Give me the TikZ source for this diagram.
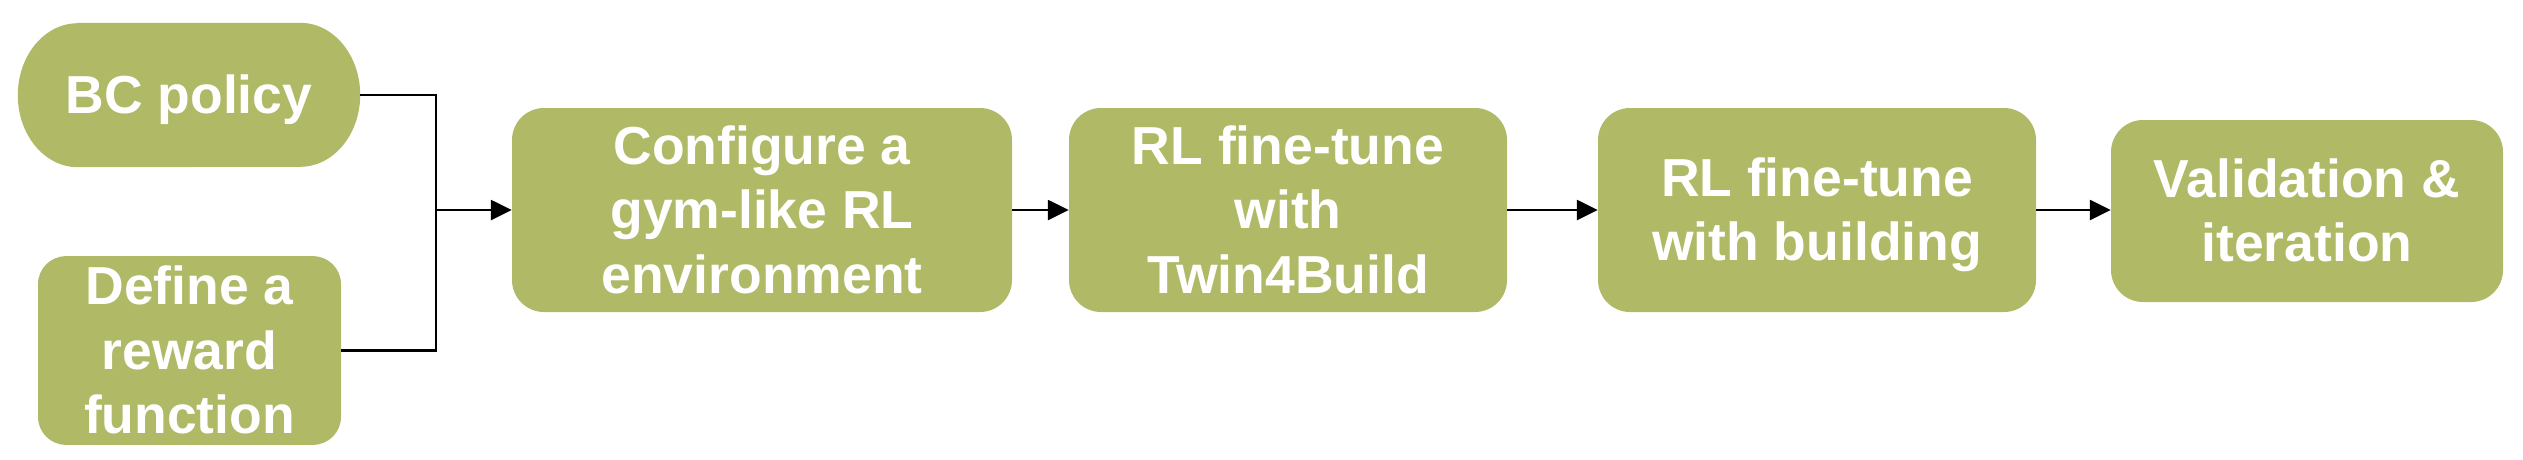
\documentclass[tikz,border=0pt]{standalone}
\usepackage{fontspec}
\setmainfont{Liberation Sans}
\usetikzlibrary{arrows.meta,backgrounds}
\definecolor{olivebox}{RGB}{175,185,102}
\newcommand\ST{\rule[-11.3pt]{0pt}{59.7pt}}
\begin{document}
\begin{tikzpicture}[x=1pt,y=-1pt,
  txt/.style={rectangle, inner sep=0pt, text=white, align=center,
    font=\fontsize{53.5}{64.5}\selectfont\bfseries},
  box/.style={txt, fill=olivebox, rounded corners=32pt},
  conn/.style={line width=2.5pt, draw=black},
  arr/.style={conn, -{Triangle[length=21pt,width=20pt]}}]
\useasboundingbox (0,0) rectangle (2523,459);

\node[txt, minimum width=342pt, minimum height=144pt] (bc) at (189,95) {\ST BC policy};
\begin{scope}[on background layer]
\fill[olivebox] ([xshift=60pt]bc.north west) -- ([xshift=-60pt]bc.north east)
  arc[start angle=90, end angle=-90, x radius=60pt, y radius=72pt]
  -- ([xshift=60pt]bc.south west)
  arc[start angle=270, end angle=90, x radius=60pt, y radius=72pt] -- cycle;
\end{scope}

\node[box, rounded corners=28pt, minimum width=303pt, minimum height=183pt] (def) at (189.5,350.5)
  {\ST Define a\\\ST reward\\\ST function};
\node[box, minimum width=500pt, minimum height=204pt] (cfg) at (762,210)
  {\ST Configure a\\\ST gym-like RL\\\ST environment};
\node[box, minimum width=438pt, minimum height=204pt] (twin) at (1288,210)
  {\ST RL fine-tune\\\ST with\\\ST Twin4Build};
\node[box, minimum width=438pt, minimum height=204pt] (bld) at (1817,210)
  {\ST RL fine-tune\\\ST with building};
\node[box, minimum width=392pt, minimum height=182pt] (val) at (2307,211)
  {\ST Validation \&\\\ST iteration};

\coordinate (j) at (436,210);
\draw[conn] (bc.east) -| (j);
\draw[conn] (def.east) -| (j);
\draw[arr] (j) -- (cfg.west);
\draw[arr] (cfg.east) -- (twin.west);
\draw[arr] (twin.east) -- (bld.west);
\draw[arr] (bld.east) -- (bld.east -| val.west);
\end{tikzpicture}
\end{document}
